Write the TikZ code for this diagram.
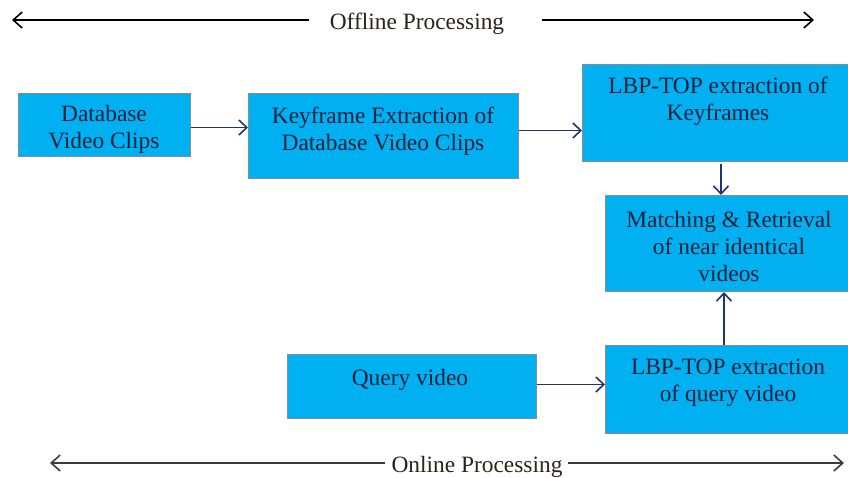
\documentclass[tikz,border=0pt]{standalone}
\usepackage{fontspec}
\setmainfont{Liberation Serif}
\usetikzlibrary{arrows.meta}
\definecolor{boxfill}{HTML}{00B0F0}
\definecolor{boxline}{HTML}{8C8C8C}
\definecolor{flow}{HTML}{1F3470}
\definecolor{boxtext}{HTML}{10213D}
\definecolor{captext}{HTML}{2B2418}
\definecolor{spanline}{HTML}{3C3C3C}
\tikzset{
  stage/.style={draw=boxline, line width=1pt, fill=boxfill, inner sep=0pt, anchor=north west},
  stagetext/.style={text=boxtext, align=center, inner sep=0pt,
    font=\fontsize{23.4}{27}\selectfont},
  flowarrow/.style={draw=flow, line width=1.8pt,
    -{Straight Barb[length=8pt,width=15pt,line width=1.6pt]}},
  spanarrow/.style={line width=1.8pt,
    -{Straight Barb[length=9pt,width=16pt,line width=1.6pt]}},
  caption/.style={text=captext, inner sep=0pt, font=\fontsize{23.4}{27}\selectfont},
}
\begin{document}
\begin{tikzpicture}[x=1pt,y=-1pt]
\useasboundingbox (0,0) rectangle (848,477);

% processing stages
\node[stage, minimum width=172pt, minimum height=63pt] (b1) at (18,93) {};
\node[stage, minimum width=270pt, minimum height=85pt] (b2) at (248,93) {};
\node[stage, minimum width=267pt, minimum height=97pt] (b3) at (582,64) {};
\node[stage, minimum width=244pt, minimum height=96pt] (b4) at (605,195) {};
\node[stage, minimum width=249pt, minimum height=64pt] (b5) at (287,354) {};
\node[stage, minimum width=244pt, minimum height=88pt] (b6) at (605,345) {};

% stage labels
\node[stagetext] (t1) at (104,129) {Database\\Video Clips};
\node[stagetext] (t2) at (383,131) {Keyframe Extraction of\\Database Video Clips};
\node[stagetext] (t3) at (718,101) {LBP-TOP extraction of\\Keyframes};
\node[stagetext] (t4) at (729,246) {Matching \& Retrieval\\of near identical\\videos};
\node[stagetext] (t5) at (410,380) {Query video};
\node[stagetext] (t6) at (728,383) {LBP-TOP extraction\\of query video};

% data flow
\draw[flowarrow] ([yshift=-2.5pt]b1.east) -- ([yshift=-2.5pt]b1.east -| b2.west);
\draw[flowarrow] ([yshift=5.5pt]b2.east) -- ([yshift=5.5pt]b2.east -| b3.west);
\draw[flowarrow] ([xshift=5pt,yshift=-2pt]b3.south) -- ([xshift=5pt]b3.south |- b4.north);
\draw[flowarrow] ([yshift=2pt]b5.east) -- ([yshift=2pt]b5.east -| b6.west);
\draw[flowarrow] ([xshift=-3.5pt]b6.north) -- ([xshift=-3.5pt]b6.north |- b4.south);

% offline / online spans
\node[caption] (off) at (417,24) {Offline Processing};
\coordinate (offL) at (12,20);
\coordinate (offR) at (814,20);
\draw[spanarrow, draw=black] ([xshift=-21pt]off.west |- offL) -- (offL);
\draw[spanarrow, draw=black] ([xshift=38pt]off.east |- offR) -- (offR);

\node[caption] (on) at (477,467) {Online Processing};
\coordinate (onL) at (50,463);
\coordinate (onR) at (844,463);
\draw[spanarrow, draw=spanline, line width=2.2pt] ([xshift=-6pt]on.west |- onL) -- (onL);
\draw[spanarrow, draw=spanline, line width=2.2pt] ([xshift=5pt]on.east |- onR) -- (onR);
\end{tikzpicture}
\end{document}
